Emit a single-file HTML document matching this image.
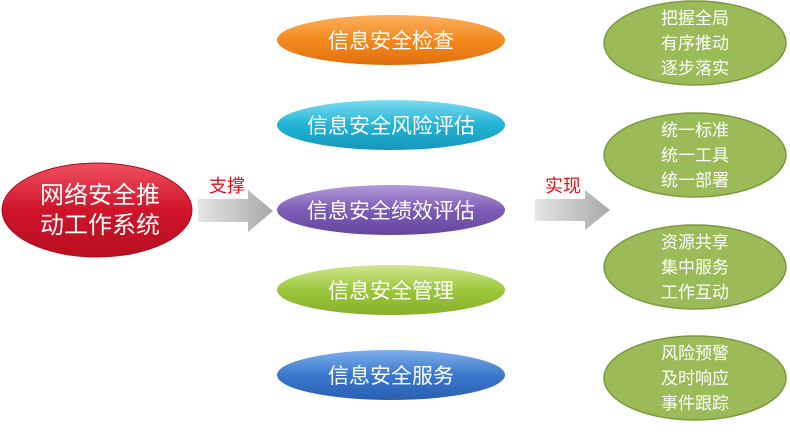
<!DOCTYPE html>
<html><head><meta charset="utf-8"><style>
body{margin:0;width:790px;height:427px;background:#fff;overflow:hidden}
</style></head><body>
<svg width="790" height="427" viewBox="0 0 790 427" style="font-family:'Liberation Sans','Noto Sans CJK SC',sans-serif">
<defs>
<linearGradient id="red" x1="0" y1="0" x2="0" y2="1"><stop offset="0" stop-color="#ef5060"/><stop offset="0.5" stop-color="#d0142a"/><stop offset="1" stop-color="#b80f20"/></linearGradient>
<linearGradient id="or" x1="0" y1="0" x2="0" y2="1"><stop offset="0" stop-color="#fbb060"/><stop offset="0.5" stop-color="#f38a1c"/><stop offset="1" stop-color="#e07010"/></linearGradient>
<linearGradient id="cy" x1="0" y1="0" x2="0" y2="1"><stop offset="0" stop-color="#7ddcf0"/><stop offset="0.5" stop-color="#22b4d6"/><stop offset="1" stop-color="#1598ba"/></linearGradient>
<linearGradient id="pu" x1="0" y1="0" x2="0" y2="1"><stop offset="0" stop-color="#b39ad8"/><stop offset="0.5" stop-color="#7d5cb6"/><stop offset="1" stop-color="#65479e"/></linearGradient>
<linearGradient id="gr" x1="0" y1="0" x2="0" y2="1"><stop offset="0" stop-color="#cfe690"/><stop offset="0.5" stop-color="#9cc83c"/><stop offset="1" stop-color="#86b02a"/></linearGradient>
<linearGradient id="bl" x1="0" y1="0" x2="0" y2="1"><stop offset="0" stop-color="#7fb0ec"/><stop offset="0.5" stop-color="#3a78cc"/><stop offset="1" stop-color="#2a60b0"/></linearGradient>
<linearGradient id="ar" x1="0" y1="0" x2="1" y2="0"><stop offset="0" stop-color="#e6e6e6"/><stop offset="1" stop-color="#a8a8a8"/></linearGradient>
</defs>
<ellipse cx="97" cy="210" rx="95" ry="47" fill="url(#red)" stroke="#a80c1c"/>
<text fill="#fff" font-size="24" text-anchor="middle"><tspan x="100" y="203">网络安全推</tspan><tspan x="100" y="233">动工作系统</tspan></text>
<polygon points="198,199 248,199 248,190 273,211 248,232 248,222 198,222" fill="url(#ar)"/>
<text x="227" y="192" fill="#e0101a" font-size="18" text-anchor="middle">支撑</text>
<polygon points="535,199 585,199 585,190 610,210 585,230 585,221 535,221" fill="url(#ar)"/>
<text x="563" y="192" fill="#e0101a" font-size="18" text-anchor="middle">实现</text>
<g font-size="21" fill="#fff" text-anchor="middle">
<ellipse cx="391" cy="40" rx="114" ry="25" fill="url(#or)"/><text x="391" y="48">信息安全检查</text>
<ellipse cx="391" cy="125" rx="114" ry="25" fill="url(#cy)"/><text x="391" y="133">信息安全风险评估</text>
<ellipse cx="391" cy="210" rx="114" ry="25" fill="url(#pu)"/><text x="391" y="218">信息安全绩效评估</text>
<ellipse cx="391" cy="290" rx="114" ry="25" fill="url(#gr)"/><text x="391" y="298">信息安全管理</text>
<ellipse cx="391" cy="375" rx="114" ry="25" fill="url(#bl)"/><text x="391" y="383">信息安全服务</text>
</g>
<g fill="#9bbb59" stroke="#7a9a3c" stroke-width="1.5">
<ellipse cx="695" cy="43" rx="91" ry="42"/>
<ellipse cx="695" cy="155" rx="91" ry="42"/>
<ellipse cx="695" cy="267" rx="91" ry="42"/>
<ellipse cx="695" cy="378" rx="91" ry="42"/>
</g>
<g font-size="17" fill="#fff" text-anchor="middle">
<text><tspan x="695" y="24">把握全局</tspan><tspan x="695" y="49">有序推动</tspan><tspan x="695" y="74">逐步落实</tspan></text>
<text><tspan x="695" y="136">统一标准</tspan><tspan x="695" y="161">统一工具</tspan><tspan x="695" y="186">统一部署</tspan></text>
<text><tspan x="695" y="248">资源共享</tspan><tspan x="695" y="273">集中服务</tspan><tspan x="695" y="298">工作互动</tspan></text>
<text><tspan x="695" y="359">风险预警</tspan><tspan x="695" y="384">及时响应</tspan><tspan x="695" y="409">事件跟踪</tspan></text>
</g>
</svg>
</body></html>
